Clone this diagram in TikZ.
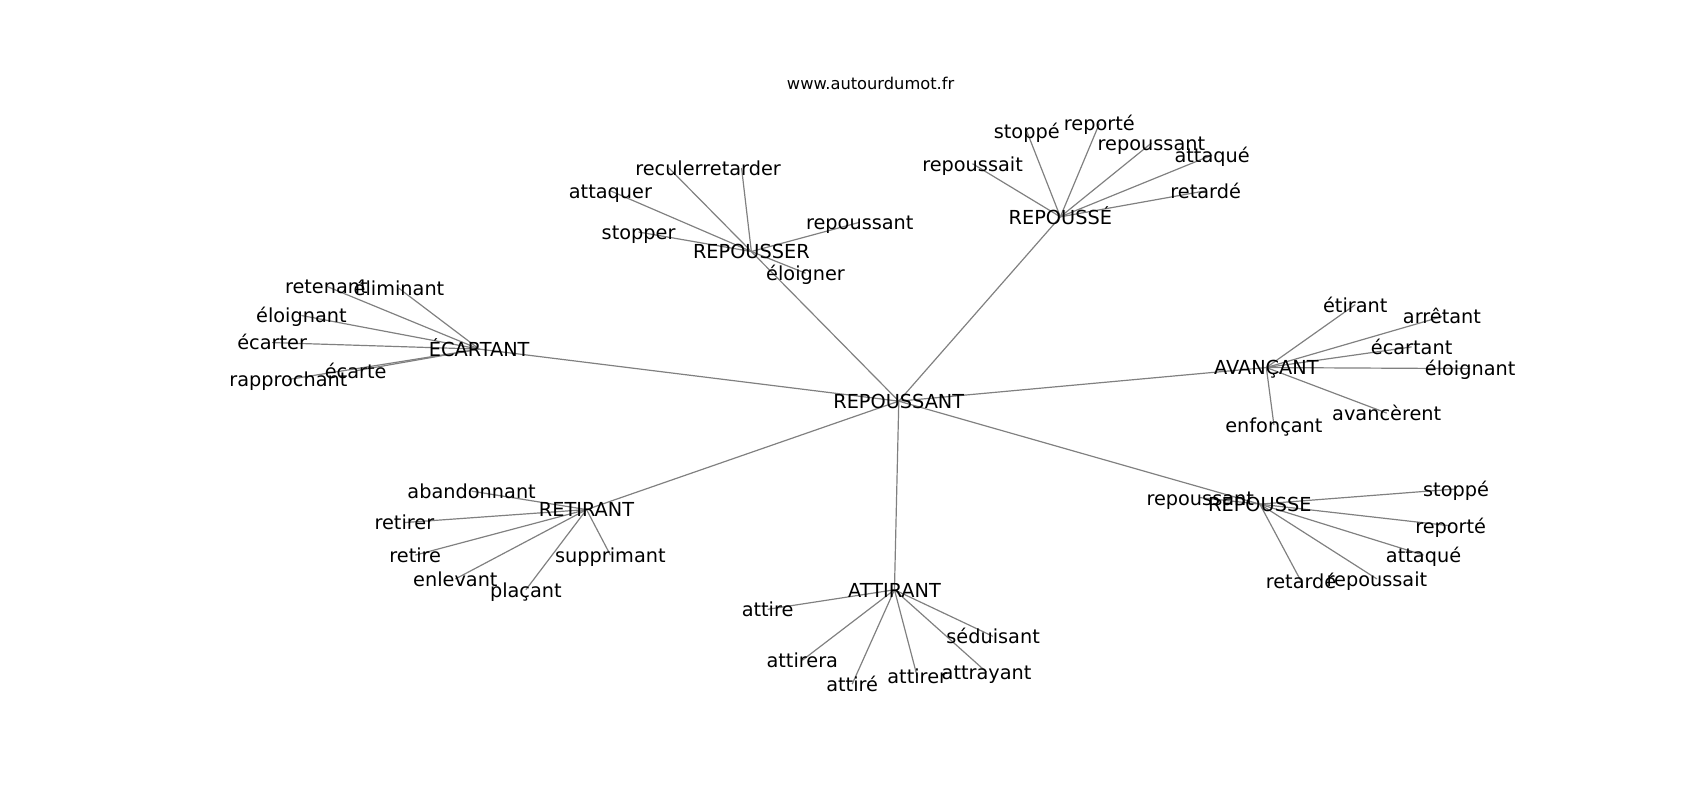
\documentclass[tikz,border=0pt]{standalone}
\usepackage{fontspec}
\setmainfont{DejaVu Sans}
\usetikzlibrary{backgrounds}
\begin{document}
\begin{tikzpicture}[x=0.5pt,y=-0.5pt,word/.style={inner sep=0pt,font=\fontsize{8.9}{10}\selectfont,text height=0.82em,text depth=0.14em},site/.style={inner sep=0pt,font=\fontsize{7.5}{9}\selectfont,text height=0.82em,text depth=0.14em},link/.style={draw=gray,line width=0.55pt}]
\useasboundingbox (0,0) rectangle (1568,738);
\node[site] (W) at (803,76) {www.autourdumot.fr};

\node[word] (R) at (829,370) {REPOUSSANT};

\node[word] (P) at (693,232) {REPOUSSER};
\node[word] (P1) at (617,155) {reculer};
\node[word] (P2) at (684,155) {retarder};
\node[word] (P3) at (563,176) {attaquer};
\node[word] (P4) at (589,214) {stopper};
\node[word] (P5) at (793,205) {repoussant};
\node[word] (P6) at (743,252) {éloigner};

\node[word] (Q) at (978,200) {REPOUSSÉ};
\node[word] (Q1) at (897,151) {repoussait};
\node[word] (Q2) at (947,121) {stoppé};
\node[word] (Q3) at (1014,114) {reporté};
\node[word] (Q4) at (1062,132) {repoussant};
\node[word] (Q5) at (1118,143) {attaqué};
\node[word] (Q6) at (1112,176) {retardé};

\node[word] (E) at (442,322) {ÉCARTANT};
\node[word] (E1) at (301,264) {retenant};
\node[word] (E2) at (368,266) {éliminant};
\node[word] (E3) at (278,291) {éloignant};
\node[word] (E4) at (251,316) {écarter};
\node[word] (E5) at (328,342) {écarte};
\node[word] (E6) at (266,350) {rapprochant};

\node[word] (A) at (1168,339) {AVANÇANT};
\node[word] (A1) at (1250,281) {étirant};
\node[word] (A2) at (1330,292) {arrêtant};
\node[word] (A3) at (1302,320) {écartant};
\node[word] (A4) at (1356,340) {éloignant};
\node[word] (A5) at (1279,381) {avancèrent};
\node[word] (A6) at (1175,392) {enfonçant};

\node[word] (S) at (1162,465) {REPOUSSE};
\node[word] (S1) at (1107,459) {repoussant};
\node[word] (S2) at (1343,451) {stoppé};
\node[word] (S3) at (1338,485) {reporté};
\node[word] (S4) at (1313,512) {attaqué};
\node[word] (S5) at (1270,534) {repoussait};
\node[word] (S6) at (1200,536) {retardé};

\node[word] (T) at (541,470) {RETIRANT};
\node[word] (T1) at (435,453) {abandonnant};
\node[word] (T2) at (373,482) {retirer};
\node[word] (T3) at (383,512) {retire};
\node[word] (T4) at (420,534) {enlevant};
\node[word] (T5) at (485,544) {plaçant};
\node[word] (T6) at (563,512) {supprimant};

\node[word] (V) at (825,544) {ATTIRANT};
\node[word] (V1) at (708,562) {attire};
\node[word] (V2) at (740,609) {attirera};
\node[word] (V3) at (786,631) {attiré};
\node[word] (V4) at (846,624) {attirer};
\node[word] (V5) at (910,620) {attrayant};
\node[word] (V6) at (916,587) {séduisant};

\begin{scope}[on background layer]
\draw[link] (R.center) -- (P.center);
\draw[link] (R.center) -- (Q.center);
\draw[link] (R.center) -- (E.center);
\draw[link] (R.center) -- (A.center);
\draw[link] (R.center) -- (S.center);
\draw[link] (R.center) -- (T.center);
\draw[link] (R.center) -- (V.center);

\draw[link] (P.center) -- (P1.center);
\draw[link] (P.center) -- (P2.center);
\draw[link] (P.center) -- (P3.center);
\draw[link] (P.center) -- (P4.center);
\draw[link] (P.center) -- (P5.center);
\draw[link] (P.center) -- (P6.center);

\draw[link] (Q.center) -- (Q1.center);
\draw[link] (Q.center) -- (Q2.center);
\draw[link] (Q.center) -- (Q3.center);
\draw[link] (Q.center) -- (Q4.center);
\draw[link] (Q.center) -- (Q5.center);
\draw[link] (Q.center) -- (Q6.center);

\draw[link] (E.center) -- (E1.center);
\draw[link] (E.center) -- (E2.center);
\draw[link] (E.center) -- (E3.center);
\draw[link] (E.center) -- (E4.center);
\draw[link] (E.center) -- (E5.center);
\draw[link] (E.center) -- (E6.center);

\draw[link] (A.center) -- (A1.center);
\draw[link] (A.center) -- (A2.center);
\draw[link] (A.center) -- (A3.center);
\draw[link] (A.center) -- (A4.center);
\draw[link] (A.center) -- (A5.center);
\draw[link] (A.center) -- (A6.center);

\draw[link] (S.center) -- (S1.center);
\draw[link] (S.center) -- (S2.center);
\draw[link] (S.center) -- (S3.center);
\draw[link] (S.center) -- (S4.center);
\draw[link] (S.center) -- (S5.center);
\draw[link] (S.center) -- (S6.center);

\draw[link] (T.center) -- (T1.center);
\draw[link] (T.center) -- (T2.center);
\draw[link] (T.center) -- (T3.center);
\draw[link] (T.center) -- (T4.center);
\draw[link] (T.center) -- (T5.center);
\draw[link] (T.center) -- (T6.center);

\draw[link] (V.center) -- (V1.center);
\draw[link] (V.center) -- (V2.center);
\draw[link] (V.center) -- (V3.center);
\draw[link] (V.center) -- (V4.center);
\draw[link] (V.center) -- (V5.center);
\draw[link] (V.center) -- (V6.center);
\end{scope}
\end{tikzpicture}
\end{document}
